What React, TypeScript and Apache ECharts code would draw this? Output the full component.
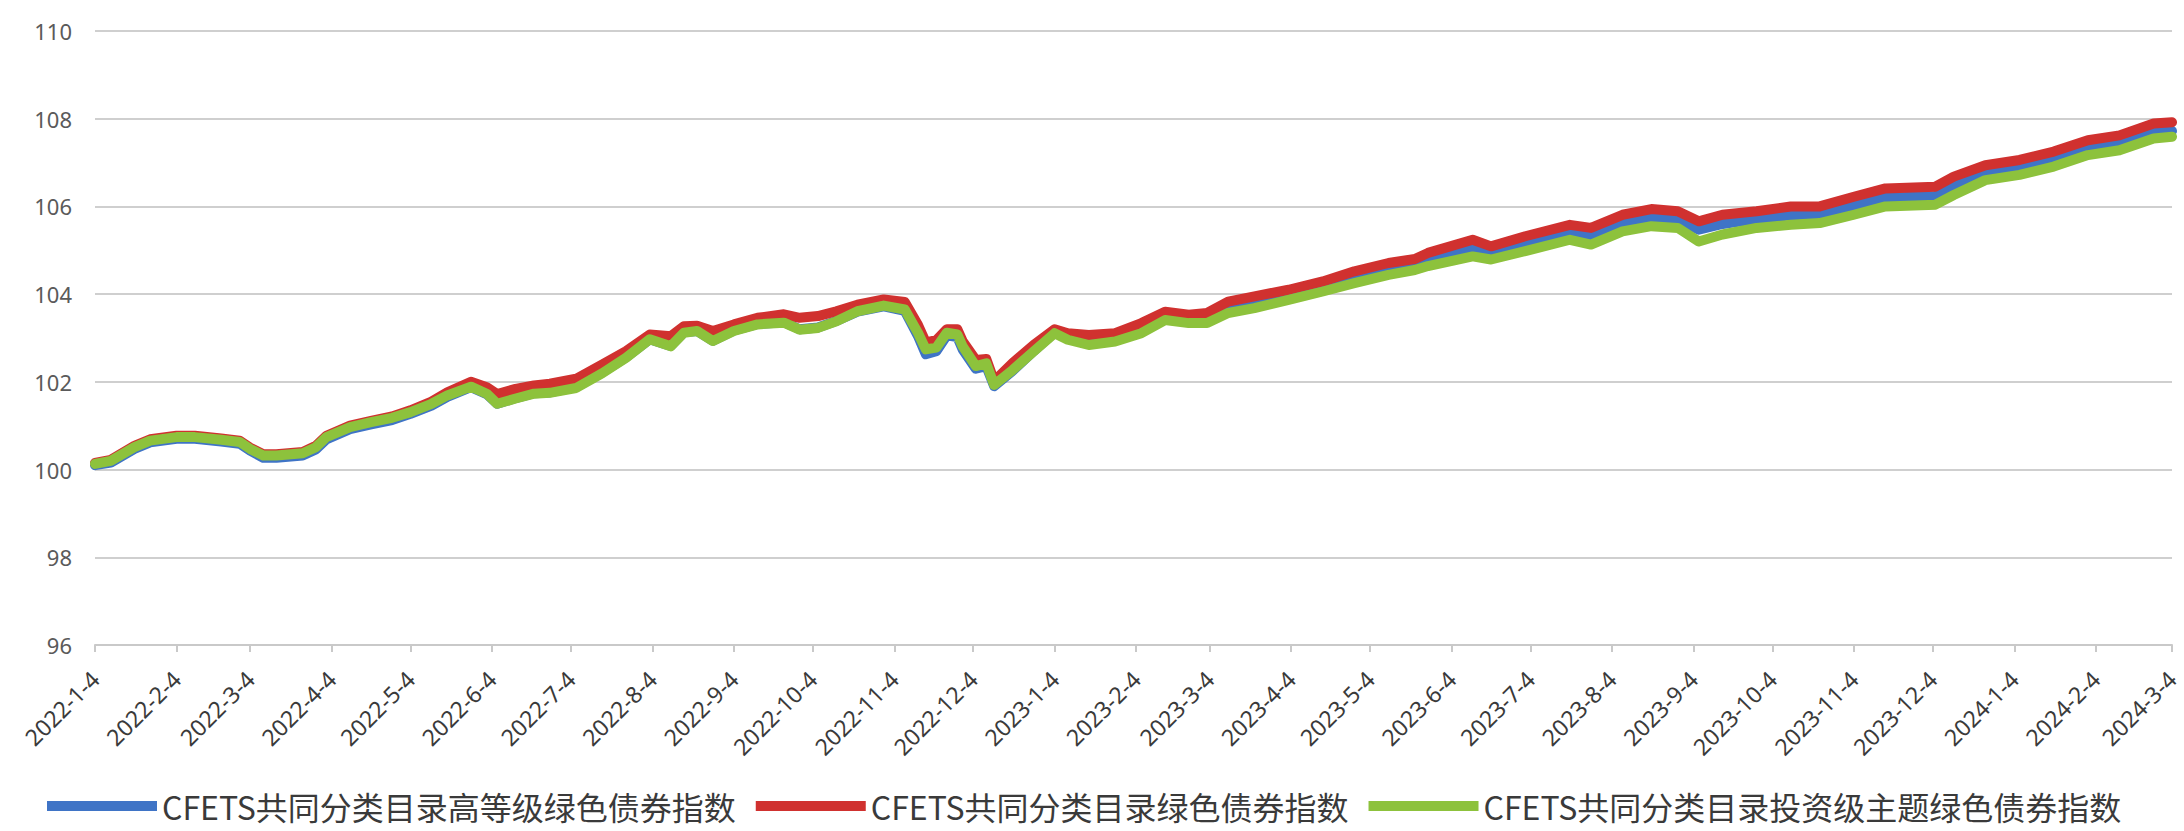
import React, { useEffect, useRef } from "react";
import * as echarts from "echarts";

const seriesNames = [
  "CFETS共同分类目录高等级绿色债券指数",
  "CFETS共同分类目录绿色债券指数",
  "CFETS共同分类目录投资级主题绿色债券指数",
];

const tickLabels = [
  "2022-1-4", "2022-2-4", "2022-3-4", "2022-4-4", "2022-5-4", "2022-6-4", "2022-7-4",
  "2022-8-4", "2022-9-4", "2022-10-4", "2022-11-4", "2022-12-4", "2023-1-4", "2023-2-4",
  "2023-3-4", "2023-4-4", "2023-5-4", "2023-6-4", "2023-7-4", "2023-8-4", "2023-9-4",
  "2023-10-4", "2023-11-4", "2023-12-4", "2024-1-4", "2024-2-4", "2024-3-4",
];

const dates = [
  "2022-01-04", "2022-01-10", "2022-01-19", "2022-01-25", "2022-02-04", "2022-02-11", "2022-02-21",
  "2022-02-28", "2022-03-04", "2022-03-09", "2022-03-14", "2022-03-24", "2022-03-29", "2022-04-02",
  "2022-04-11", "2022-04-19", "2022-04-27", "2022-05-04", "2022-05-12", "2022-05-18", "2022-05-27",
  "2022-06-02", "2022-06-06", "2022-06-13", "2022-06-20", "2022-06-26", "2022-07-06", "2022-07-16",
  "2022-07-25", "2022-08-03", "2022-08-11", "2022-08-16", "2022-08-21", "2022-08-27", "2022-09-04",
  "2022-09-13", "2022-09-23", "2022-09-29", "2022-10-06", "2022-10-13", "2022-10-21", "2022-10-31",
  "2022-11-08", "2022-11-13", "2022-11-16", "2022-11-20", "2022-11-24", "2022-11-28", "2022-11-30",
  "2022-12-05", "2022-12-09", "2022-12-12", "2022-12-19", "2022-12-27", "2023-01-04", "2023-01-09",
  "2023-01-17", "2023-01-27", "2023-02-06", "2023-02-15", "2023-02-24", "2023-03-03", "2023-03-11",
  "2023-03-21", "2023-04-03", "2023-04-16", "2023-04-28", "2023-05-11", "2023-05-21", "2023-05-26",
  "2023-06-12", "2023-06-19", "2023-07-02", "2023-07-19", "2023-07-27", "2023-08-08", "2023-08-19",
  "2023-08-29", "2023-09-06", "2023-09-15", "2023-09-28", "2023-10-11", "2023-10-22", "2023-11-04",
  "2023-11-16", "2023-12-05", "2023-12-12", "2023-12-24", "2024-01-06", "2024-01-19", "2024-02-01",
  "2024-02-13", "2024-02-26", "2024-03-04",
];

const highGrade = [
  100.1, 100.16, 100.47, 100.62, 100.7, 100.7, 100.64,
  100.59, 100.43, 100.27, 100.27, 100.32, 100.46, 100.69,
  100.92, 101.03, 101.13, 101.27, 101.46, 101.66, 101.88,
  101.72, 101.5, 101.63, 101.74, 101.76, 101.88, 102.22,
  102.56, 102.97, 102.82, 103.13, 103.16, 102.94, 103.17,
  103.32, 103.36, 103.2, 103.24, 103.39, 103.6, 103.72,
  103.62, 103.05, 102.63, 102.7, 103.06, 103.02, 102.74,
  102.3, 102.36, 101.9, 102.25, 102.7, 103.13, 102.99,
  102.88, 102.97, 103.17, 103.47, 103.4, 103.42, 103.66,
  103.78, 103.97, 104.17, 104.38, 104.58, 104.69, 104.8,
  105.05, 104.95, 105.16, 105.43, 105.33, 105.63, 105.73,
  105.69, 105.47, 105.6, 105.71, 105.8, 105.82, 106.02,
  106.2, 106.24, 106.46, 106.77, 106.89, 107.08, 107.33,
  107.44, 107.7, 107.72,
];

const greenBond = [
  100.15, 100.22, 100.54, 100.69, 100.77, 100.77, 100.71,
  100.66, 100.5, 100.35, 100.35, 100.4, 100.54, 100.77,
  101.0, 101.11, 101.21, 101.35, 101.55, 101.76, 102.0,
  101.88, 101.72, 101.84, 101.92, 101.96, 102.07, 102.4,
  102.7, 103.08, 103.04, 103.27, 103.28, 103.16, 103.31,
  103.46, 103.54, 103.46, 103.5, 103.61, 103.76, 103.88,
  103.82, 103.3, 102.9, 102.95, 103.2, 103.2, 102.93,
  102.5, 102.52, 102.02, 102.43, 102.84, 103.2, 103.11,
  103.07, 103.11, 103.34, 103.6, 103.53, 103.57, 103.83,
  103.95, 104.1, 104.29, 104.52, 104.71, 104.8, 104.94,
  105.24, 105.09, 105.32, 105.58, 105.51, 105.81, 105.94,
  105.89, 105.66, 105.81, 105.89, 106.0, 106.0, 106.22,
  106.41, 106.45, 106.68, 106.94, 107.06, 107.25, 107.51,
  107.62, 107.89, 107.92,
];

const investGrade = [
  100.13, 100.2, 100.51, 100.66, 100.74, 100.74, 100.68,
  100.63, 100.47, 100.32, 100.32, 100.37, 100.51, 100.74,
  100.97, 101.08, 101.18, 101.31, 101.5, 101.69, 101.89,
  101.73, 101.5, 101.62, 101.73, 101.75, 101.86, 102.2,
  102.55, 102.97, 102.81, 103.12, 103.16, 102.93, 103.16,
  103.31, 103.35, 103.19, 103.23, 103.38, 103.61, 103.74,
  103.65, 103.12, 102.74, 102.78, 103.12, 103.08, 102.81,
  102.36, 102.42, 101.93, 102.27, 102.69, 103.11, 102.96,
  102.84, 102.92, 103.11, 103.41, 103.34, 103.34, 103.57,
  103.68, 103.87, 104.06, 104.25, 104.44, 104.55, 104.64,
  104.86, 104.79, 104.98, 105.24, 105.13, 105.43, 105.55,
  105.51, 105.2, 105.36, 105.51, 105.58, 105.62, 105.81,
  106.0, 106.04, 106.26, 106.6, 106.72, 106.91, 107.17,
  107.28, 107.55, 107.59,
];

const colors = ["#3f74c6", "#d0312f", "#8dc23c"];
const valueSets = [highGrade, greenBond, investGrade];

function toTime(s: string): number {
  const [y, m, d] = s.split("-").map(Number);
  return new Date(y, m - 1, d).getTime();
}

export default function App() {
  const ref = useRef<HTMLDivElement>(null);
  useEffect(() => {
    if (!ref.current) return;
    const chart = echarts.init(ref.current, null, { renderer: "svg" });
    const tickTimes = tickLabels.map(toTime);
    const labelFont = "'Noto Sans', 'Liberation Sans', sans-serif";
    chart.setOption({
      animation: false,
      backgroundColor: "#ffffff",
      grid: {
        left: 95,
        right: 12,
        top: 31,
        bottom: 186,
        containLabel: false,
        outerBoundsMode: "none",
      },
      xAxis: {
        type: "value",
        min: toTime("2022-01-04"),
        max: toTime("2024-03-04"),
        axisLine: { show: true, lineStyle: { color: "#c9c9c9", width: 2 } },
        axisTick: {
          show: true,
          customValues: tickTimes,
          length: 7,
          lineStyle: { color: "#c9c9c9", width: 2 },
        },
        axisLabel: {
          customValues: tickTimes,
          rotate: 45,
          margin: 30,
          fontSize: 23,
          color: "#3a3a3a",
          fontFamily: labelFont,
          hideOverlap: false,
          showMinLabel: true,
          showMaxLabel: true,
          formatter: (v: number) => {
            const d = new Date(v);
            return `${d.getFullYear()}-${d.getMonth() + 1}-${d.getDate()}`;
          },
        },
        splitLine: { show: false },
      },
      yAxis: {
        type: "value",
        min: 96,
        max: 110,
        interval: 2,
        axisLine: { show: false },
        axisTick: { show: false },
        axisLabel: {
          fontSize: 22,
          color: "#5a5a5a",
          margin: 23,
          fontFamily: labelFont,
        },
        splitLine: { lineStyle: { color: "#cfcfcf", width: 2 } },
      },
      legend: {
        left: 42,
        right: 0,
        top: 784,
        itemWidth: 110,
        itemHeight: 10,
        itemGap: 20,
        icon: "rect",
        textStyle: {
          fontSize: 32,
          lineHeight: 34,
          color: "#3a3a3a",
          fontFamily: "'Noto Sans CJK SC', sans-serif",
        },
        data: seriesNames,
      },
      series: seriesNames.map((name, i) => ({
        name,
        type: "line",
        showSymbol: false,
        symbol: "none",
        color: colors[i],
        lineStyle: { width: 10, color: colors[i], join: "round", cap: "round" },
        data: dates.map((d, j) => [toTime(d), valueSets[i][j]]),
        z: 2 + i,
      })),
    });
    return () => chart.dispose();
  }, []);
  return (
    <div
      ref={ref}
      style={{ position: "fixed", left: 0, top: 0, width: 2184, height: 831 }}
    />
  );
}
